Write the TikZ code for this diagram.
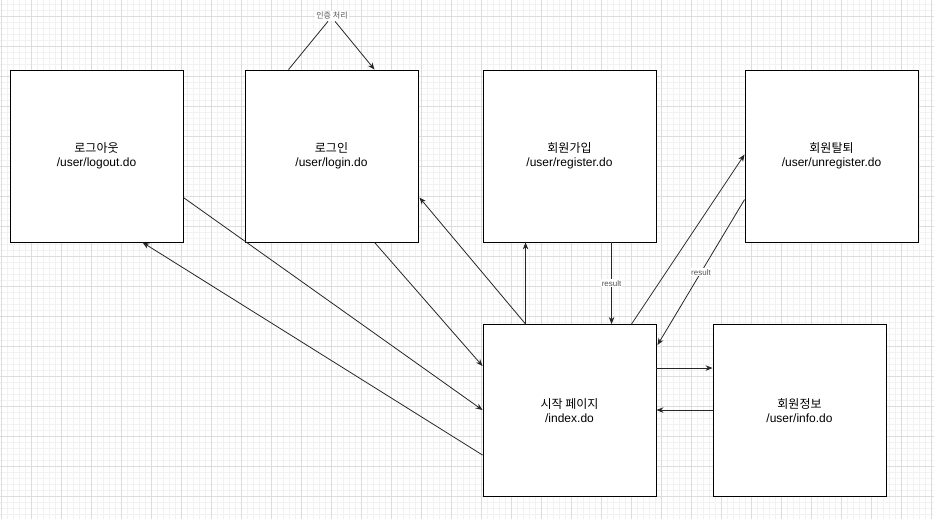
\documentclass[tikz,border=0pt]{standalone}
\usepackage{fontspec}
\setmainfont{Liberation Sans}
\newfontfamily\kr{Noto Sans CJK KR}
\usetikzlibrary{calc,arrows.meta}
\definecolor{gmajor}{HTML}{DCDCDC}
\definecolor{gminor}{HTML}{F2F2F2}
\definecolor{lbl}{HTML}{555555}
\tikzset{
  page/.style={draw=black, line width=0.9pt, fill=white, minimum width=173pt, minimum height=172pt, inner sep=0pt, align=center, font=\fontsize{12}{14.5}\selectfont},
  conn/.style={draw=black!85, line width=0.8pt, -{Stealth[length=7pt,width=5.5pt]}},
  plain/.style={draw=black!85, line width=0.8pt},
  tag/.style={fill=white, inner sep=1pt, text=lbl, font=\fontsize{8}{9}\selectfont}
}
\begin{document}
\begin{tikzpicture}[x=1pt,y=-1pt]
\useasboundingbox (0,0) rectangle (934,519);
\fill[white] (0,0) rectangle (934,519);
\foreach \x in {1,7,...,934} \draw[gminor, line width=0.6pt] (\x,0) -- (\x,519);
\foreach \y in {4,10,...,519} \draw[gminor, line width=0.6pt] (0,\y) -- (934,\y);
\foreach \x in {1,31,...,934} \draw[gmajor, line width=0.7pt] (\x,0) -- (\x,519);
\foreach \y in {16,46,...,519} \draw[gmajor, line width=0.7pt] (0,\y) -- (934,\y);

\node[page] (logout) at (96.5,156) {{\kr 로그아웃}\\/user/logout.do};
\node[page] (login) at (331.5,156) {{\kr 로그인}\\/user/login.do};
\node[page] (reg) at (569.5,156) {{\kr 회원가입}\\/user/register.do};
\node[page] (unreg) at (831.5,156) {{\kr 회원탈퇴}\\/user/unregister.do};
\node[page] (idx) at (569.5,410.5) {{\kr 시작 페이지}\\/index.do};
\node[page] (info) at (799.5,410.5) {{\kr 회원정보}\\/user/info.do};

\node[tag, font=\kr\fontsize{8}{9}\selectfont, inner sep=1.5pt] (auth) at (332,16) {인증 처리};
\draw[plain] ($(login.north west)+(44,0)$) -- ($(auth.south)+(-4,0)$);
\draw[conn] ($(auth.south)+(3,0)$) -- ($(login.north west)+(130,0)$);

\draw[conn] ($(logout.north east)+(0,128)$) -- ($(idx.north west)+(0,86)$);
\draw[conn] ($(idx.north west)+(0,131)$) -- ($(logout.south west)+(133,0)$);
\draw[conn] ($(login.south west)+(130,0)$) -- ($(idx.north west)+(0,42)$);
\draw[conn] ($(idx.north west)+(43,0)$) -- ($(login.north east)+(1,128)$);
\draw[conn] ($(idx.north west)+(43,0)$) -- ($(reg.south west)+(43,0)$);
\draw[conn] ($(reg.south west)+(129,0)$) -- node[tag] {result} ($(idx.north west)+(129,0)$);
\draw[conn] ($(idx.north west)+(149,0)$) -- ($(unreg.north west)+(0,85)$);
\draw[conn] ($(unreg.north west)+(0,130)$) -- node[tag] {result} ($(idx.north east)+(1,21)$);
\draw[conn] ($(idx.north east)+(0,44)$) -- ($(info.north west)+(0,44)$);
\draw[conn] ($(info.north west)+(0,86)$) -- ($(idx.north east)+(0,86)$);
\end{tikzpicture}
\end{document}
